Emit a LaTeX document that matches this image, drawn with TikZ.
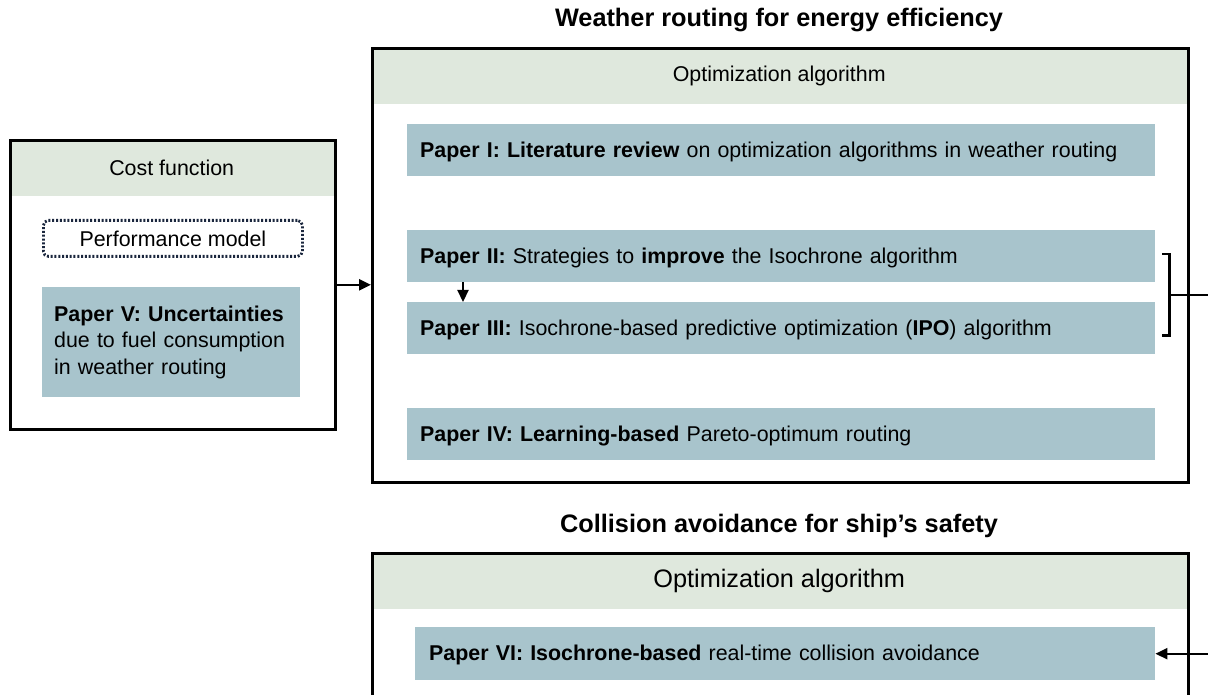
\documentclass[tikz,border=0pt]{standalone}
\usepackage{fontspec}
\setmainfont{Liberation Sans}
\usetikzlibrary{arrows.meta,calc}
\definecolor{headgreen}{HTML}{DFE8DD}
\definecolor{paperblue}{HTML}{A8C4CC}
\definecolor{dotnavy}{HTML}{1A263D}
\newcommand\bodyfs{\fontsize{21.4}{26.5}\selectfont}
\newcommand\bigfs{\fontsize{25.3}{30}\selectfont}

\begin{document}
\begin{tikzpicture}[x=1pt,y=-1pt,
  frame/.style={draw=black, line width=2.6pt, anchor=north west, inner sep=0pt},
  head/.style={fill=headgreen, anchor=north west, inner sep=0pt, font=\bodyfs},
  paper/.style={fill=paperblue, anchor=north west, text width=#1, align=left,
    inner xsep=13pt, inner ysep=0pt, minimum height=52pt, font=\bodyfs},
  oneline/.style={text height=19pt, text depth=4.5pt},
  heading/.style={font=\bigfs\bfseries},
  conn/.style={line width=2.2pt, -{Triangle[length=12pt,width=11pt]}},
  brk/.style={line width=2.2pt},
  dotbox/.style={draw=dotnavy, line width=2.8pt, dash pattern=on 2pt off 1.8pt,
    rounded corners=5pt, anchor=north west, inner sep=0pt, font=\bodyfs}]

\useasboundingbox (0,0) rectangle (1208,695);
\clip (0,0) rectangle (1208,695);
\fill[white] (0,0) rectangle (1208,695);

% ---------- weather routing ----------
\node[heading] (wrt) at (779,20) {Weather routing for energy efficiency};
\node[head, minimum width=816pt, minimum height=57pt] (wrh) at (371,47) {Optimization algorithm};
\node[frame, minimum width=816pt, minimum height=434pt] (wr) at (371,47) {};

\node[paper=722pt, oneline] (p1) at (407,124) {\textbf{Paper I: Literature review} on optimization algorithms in weather routing};
\node[paper=722pt, oneline] (p2) at (407,230) {\textbf{Paper II:} Strategies to \textbf{improve} the Isochrone algorithm};
\node[paper=722pt, oneline] (p3) at (407,302) {\textbf{Paper III:} Isochrone-based predictive optimization (\textbf{IPO}) algorithm};
\node[paper=722pt, oneline] (p4) at (407,408) {\textbf{Paper IV: Learning-based} Pareto-optimum routing};

% ---------- cost function ----------
\node[head, minimum width=325pt, minimum height=57pt] (cfh) at (9,139) {Cost function};
\node[frame, minimum width=325pt, minimum height=289pt] (cf) at (9,139) {};
\node[dotbox, minimum width=259pt, minimum height=36pt] (pm) at (42,219) {Performance model};
\node[paper=234pt, inner xsep=12pt, minimum height=110pt] (p5) at (42,287)
  {\textbf{Paper V: Uncertainties}\\due to fuel consumption\\in weather routing};

% ---------- collision avoidance ----------
\node[heading] (cat) at (779,526) {Collision avoidance for ship’s safety};
\node[head, minimum width=816pt, minimum height=57pt, font=\bigfs] (cah) at (371,552) {Optimization algorithm};
\node[frame, minimum width=816pt, minimum height=220pt] (ca) at (371,552) {};
\node[paper=712pt, oneline, inner xsep=14pt, minimum height=53pt] (p6) at (415,627)
  {\textbf{Paper VI: Isochrone-based} real-time collision avoidance};

% ---------- connectors ----------
\coordinate (right) at (1212,0);
\draw[conn] (cf.east) -- (cf.east -| wr.west);
\draw[conn] ($(p2.south west)+(56,0)$) -- ($(p3.north west)+(56,0)$);

\coordinate (bt) at ($(p2.north east)+(7,24)$);
\coordinate (bb) at ($(p3.south east)+(7,-19)$);
\coordinate (bm) at ($(bt)!0.5!(bb)+(7,0)$);
\draw[brk] (bt) -- ++(7,0) |- (bb);
\draw[brk] (bm) -- (bm -| right);

\draw[conn] (p6.east -| right) -- (p6.east);
\end{tikzpicture}
\end{document}
